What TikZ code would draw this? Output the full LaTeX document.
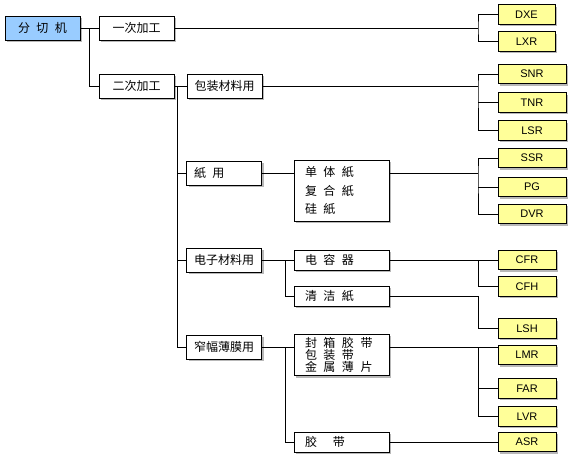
\documentclass[tikz,border=0pt]{standalone}
\usepackage{fontspec}
\setmainfont{Liberation Sans}
\newfontfamily\cjk{Noto Sans CJK SC}
\usetikzlibrary{shadows}
\definecolor{rootblue}{HTML}{99CCFF}
\definecolor{leafyellow}{HTML}{FFFF99}
\newcommand{\chgap}{\hspace{6.5pt}}
\begin{document}
\begin{tikzpicture}[
x=1pt,y=-1pt,
boxshadow/.style={drop shadow={shadow xshift=2pt,shadow yshift=-2pt,fill=black!35,opacity=.8}},
rootbox/.style={rectangle, draw=black, fill=rootblue, line width=.9pt, minimum width=75pt, minimum height=24pt, boxshadow, font=\cjk\fontsize{12}{12}\selectfont},
catbox/.style={rectangle, draw=black, fill=white, line width=.9pt, minimum width=75pt, minimum height=24pt, boxshadow, font=\cjk\fontsize{12}{12}\selectfont},
usebox/.style={catbox, inner xsep=7.5pt, text width=60pt, align=left},
itembox/.style={rectangle, draw=black, fill=white, line width=.9pt, inner xsep=11pt, text width=73pt, align=left, minimum height=20pt, boxshadow, font=\cjk\fontsize{12}{18.5}\selectfont},
leafbox/.style={rectangle, draw=black, fill=leafyellow, line width=.9pt, minimum height=19.5pt, boxshadow, font=\fontsize{11}{12}\selectfont},
line/.style={line width=.9pt}
]
\useasboundingbox (0,0) rectangle (570,459);
%Nodes
\node[rootbox] (root) at (42.5,28) {分\chgap 切\chgap 机};
\node[catbox] (yici) at (136.5,28) {一次加工};
\node[catbox] (erci) at (136.5,86) {二次加工};
\node[usebox] (baozhuang) at (224.5,86) {包装材料用};
\node[usebox] (zhiyong) at (224,173) {紙\chgap 用};
\node[usebox] (dianzi) at (224,260) {电子材料用};
\node[usebox] (zhaifu) at (224,347) {窄幅薄膜用};
\node[itembox, minimum height=61pt] (danti) at (341.5,190.5) {单\chgap 体\chgap 紙\\复\chgap 合\chgap 紙\\硅\chgap 紙};
\node[itembox] (dianrong) at (341.5,260) {电\chgap 容\chgap 器};
\node[itembox] (qingjie) at (341.5,296) {清\chgap 洁\chgap 紙};
\node[itembox, minimum height=38pt, font=\cjk\fontsize{12}{12}\selectfont] (fengxiang) at (341.5,355) {封\chgap 箱\chgap 胶\chgap 带\\包\chgap 装\chgap 带\\金\chgap 属\chgap 薄\chgap 片};
\node[itembox] (jiaodai) at (341.5,442) {胶\hspace{16pt}带};
\node[leafbox, minimum width=57pt] (dxe) at (526.5,14.5) {DXE};
\node[leafbox, minimum width=57pt] (lxr) at (526.5,41.5) {LXR};
\node[leafbox, minimum width=68pt] (snr) at (532,74) {SNR};
\node[leafbox, minimum width=68pt] (tnr) at (532,102.5) {TNR};
\node[leafbox, minimum width=68pt] (lsr) at (532,130.5) {LSR};
\node[leafbox, minimum width=68pt] (ssr) at (532,158) {SSR};
\node[leafbox, minimum width=68pt] (pg) at (532,187) {PG};
\node[leafbox, minimum width=68pt] (dvr) at (532,214) {DVR};
\node[leafbox, minimum width=58pt] (cfr) at (527,260) {CFR};
\node[leafbox, minimum width=58pt] (cfh) at (527,286.5) {CFH};
\node[leafbox, minimum width=58pt] (lsh) at (527,328.5) {LSH};
\node[leafbox, minimum width=58pt] (lmr) at (527,355) {LMR};
\node[leafbox, minimum width=58pt] (far) at (527,388.5) {FAR};
\node[leafbox, minimum width=58pt] (lvr) at (527,416.5) {LVR};
\node[leafbox, minimum width=58pt] (asr) at (527,442) {ASR};
%Joints
\coordinate (j0) at (89,28);
\coordinate (j1) at (177,86);
\coordinate (m1) at (285,260);
\coordinate (m2) at (285,347);
\coordinate (k1) at (478,28);
\coordinate (k2) at (478,86);
\coordinate (k3) at (478,173);
\coordinate (k4) at (478,260);
\coordinate (k5) at (478,296);
\coordinate (k6) at (478,347);
%Lines
\draw[line] (root) -- (yici);
\draw[line] (j0) |- (erci.west);
\draw[line] (erci) -- (baozhuang);
\draw[line] (j1) |- (zhaifu.west);
\draw[line] (j1 |- zhiyong) -- (zhiyong.west);
\draw[line] (j1 |- dianzi) -- (dianzi.west);
\draw[line] (yici.east) -- (k1);
\draw[line] (dxe.west) -| (k1) |- (lxr.west);
\draw[line] (baozhuang.east) -- (k2);
\draw[line] (snr.west) -| (k2) |- (lsr.west);
\draw[line] (k2 |- tnr) -- (tnr.west);
\draw[line] (zhiyong.east) -- (zhiyong.east -| danti.west);
\draw[line] (danti.east |- zhiyong) -- (k3);
\draw[line] (ssr.west) -| (k3) |- (dvr.west);
\draw[line] (k3 |- pg) -- (pg.west);
\draw[line] (dianzi) -- (dianrong);
\draw[line] (m1) |- (qingjie.west);
\draw[line] (dianrong) -- (cfr);
\draw[line] (k4) |- (cfh.west);
\draw[line] (qingjie.east) -- (k5) |- (lsh.west);
\draw[line] (zhaifu.east) -- (zhaifu.east -| fengxiang.west);
\draw[line] (m2) |- (jiaodai.west);
\draw[line] (fengxiang.east |- zhaifu) -- (lmr.west |- zhaifu);
\draw[line] (k6) |- (lvr.west);
\draw[line] (k6 |- far) -- (far.west);
\draw[line] (jiaodai) -- (asr);
\end{tikzpicture}
\end{document}
